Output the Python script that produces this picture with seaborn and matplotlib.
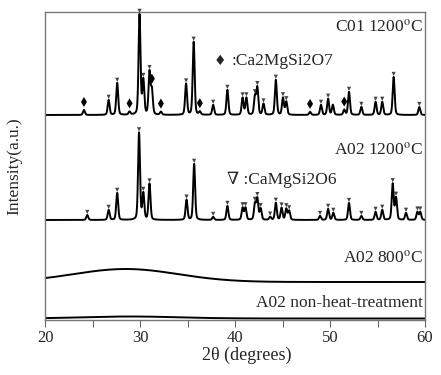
import numpy as np
import pandas as pd
import matplotlib.pyplot as plt
import seaborn as sns
from matplotlib.ticker import MultipleLocator

# XRD patterns.
# peak position (2theta, deg), height above the pattern baseline (a.u.)
# phase: 'd' = CaMgSi2O6 (triangle), 'a' = Ca2MgSi2O7 (diamond), '' = not marked
c01_pos = [24.1, 26.7, 27.6, 28.9, 29.95, 30.35, 31.0, 31.25, 32.2, 34.85, 35.65,
           36.3, 37.7, 39.2, 40.8, 41.2, 42.1, 42.35, 43.0, 44.3, 45.05, 45.4,
           47.9, 49.05, 49.8, 50.3, 51.5, 52.0, 53.3, 54.8, 55.5, 56.7, 59.4]
c01_height = [5, 15, 32, 3, 100, 34, 42, 24, 3, 31, 73,
              3, 10, 25, 17, 17, 18, 27, 11, 35, 17, 13,
              3, 10, 16, 10, 5, 23, 8, 13, 13, 38, 8]
c01_phase = ['a', 'd', 'd', 'a', 'd', 'd', 'd', 'a', 'a', 'd', 'd',
             'a', 'd', 'd', 'd', 'd', 'd', 'd', 'd', 'd', 'd', 'd',
             'a', 'd', 'd', '', 'a', 'd', 'd', 'd', 'd', 'd', 'd']
c01_base = 205

a12_pos = [24.45, 26.7, 27.6, 29.9, 30.35, 31.0, 34.9, 35.7, 37.7, 39.2, 40.8,
           41.1, 42.1, 42.35, 42.7, 43.7, 44.3, 44.9, 45.4, 45.7, 48.95, 49.8,
           50.35, 52.0, 53.3, 54.8, 55.5, 56.6, 56.95, 58.0, 59.2, 59.5]
a12_height = [5, 10, 27, 87, 26, 36, 20, 56, 3, 14, 12,
              12, 16, 21, 11, 3, 17, 12, 11, 9, 4, 11,
              7, 17, 4, 8, 10, 36, 22, 7, 8, 8]
a12_base = 100

# amorphous samples: baseline, hump centre, hump width, hump height
a800_base, a800_centre, a800_width, a800_height = 38, 28.5, 5.5, 13
raw_base, raw_centre, raw_width, raw_height = 1.5, 29.0, 5.0, 2

sample_labels = ['C01 1200$^{\\rm o}$C', 'A02 1200$^{\\rm o}$C',
                 'A02 800$^{\\rm o}$C', 'A02 non-heat-treatment']


def profile(x, pos, height, fwhm=0.24, eta=0.3):
    y = np.zeros_like(x)
    for p, h in zip(pos, height):
        d = (x - p) / (fwhm / 2)
        y += h * (eta / (1 + d ** 2) + (1 - eta) * np.exp(-np.log(2) * d ** 2))
    return y


sns.set_theme(style='ticks')
plt.rcParams['font.family'] = ['Liberation Serif', 'DejaVu Serif']
plt.rcParams['mathtext.fontset'] = 'stix'

tt = np.arange(20, 60.001, 0.01)
patterns = pd.DataFrame({
    'tt': tt,
    'c01': c01_base + profile(tt, c01_pos, c01_height),
    'a12': a12_base + profile(tt, a12_pos, a12_height),
    'a800': a800_base + a800_height * np.exp(-0.5 * ((tt - a800_centre) / a800_width) ** 2),
    'raw': raw_base + raw_height * np.exp(-0.5 * ((tt - raw_centre) / raw_width) ** 2),
})

fig = plt.figure(figsize=(4.41, 3.75), dpi=100)
ax = fig.add_axes([45 / 441, 55 / 375, 380 / 441, 308 / 375])

for col in ['c01', 'a12', 'a800', 'raw']:
    sns.lineplot(data=patterns, x='tt', y=col, ax=ax, color='black', linewidth=1.4)

# phase markers on top of the peaks
c01 = pd.DataFrame({'pos': c01_pos, 'h': c01_height, 'phase': c01_phase})
c01['top'] = c01_base + profile(c01['pos'].values, c01_pos, c01_height)
a12 = pd.DataFrame({'pos': a12_pos, 'h': a12_height})
a12['top'] = a12_base + profile(a12['pos'].values, a12_pos, a12_height)

tri = pd.concat([c01[c01.phase == 'd'], a12])
sns.scatterplot(x=tri['pos'], y=tri['top'] + 3, ax=ax, marker='v', s=9,
                color='#444444', edgecolor='none', clip_on=False)
dia = c01[c01.phase == 'a']
sns.scatterplot(x=dia['pos'], y=dia['top'] + 8, ax=ax, marker='d', s=26,
                color='black', edgecolor='none')

ax.set_xlim(20, 60)
ax.set_ylim(0, 308)
ax.set_yticks([])
ax.xaxis.set_major_locator(MultipleLocator(10))
ax.xaxis.set_minor_locator(MultipleLocator(5))
ax.tick_params(axis='x', which='both', direction='out', length=5, width=0.8,
               color='#666666', labelsize=12, pad=2)
for s in ax.spines.values():
    s.set_color('#777777')
    s.set_linewidth(1.0)

label_y = [288, 165, 57, 13]
for lab, y in zip(sample_labels, label_y):
    ax.text(59.8, y, lab, ha='right', va='baseline', fontsize=12.5)

ax.text(38.4, 255, '\u2666', ha='center', va='baseline', fontsize=10,
        family=['DejaVu Sans'])
ax.text(39.6, 255, ':Ca2MgSi2O7', ha='left', va='baseline', fontsize=12.5)
ax.text(39.2, 136, '\u2207 :CaMgSi2O6', ha='left', va='baseline', fontsize=12.5)

ax.set_xlabel('2\u03b8 (degrees)', fontsize=13)
ax.xaxis.set_label_coords(0.53, -0.088)
ax.set_ylabel('Intensity(a.u.)', fontsize=12.5)
ax.yaxis.set_label_coords(-0.06, 0.5)

fig.savefig('out.png', dpi=100)
